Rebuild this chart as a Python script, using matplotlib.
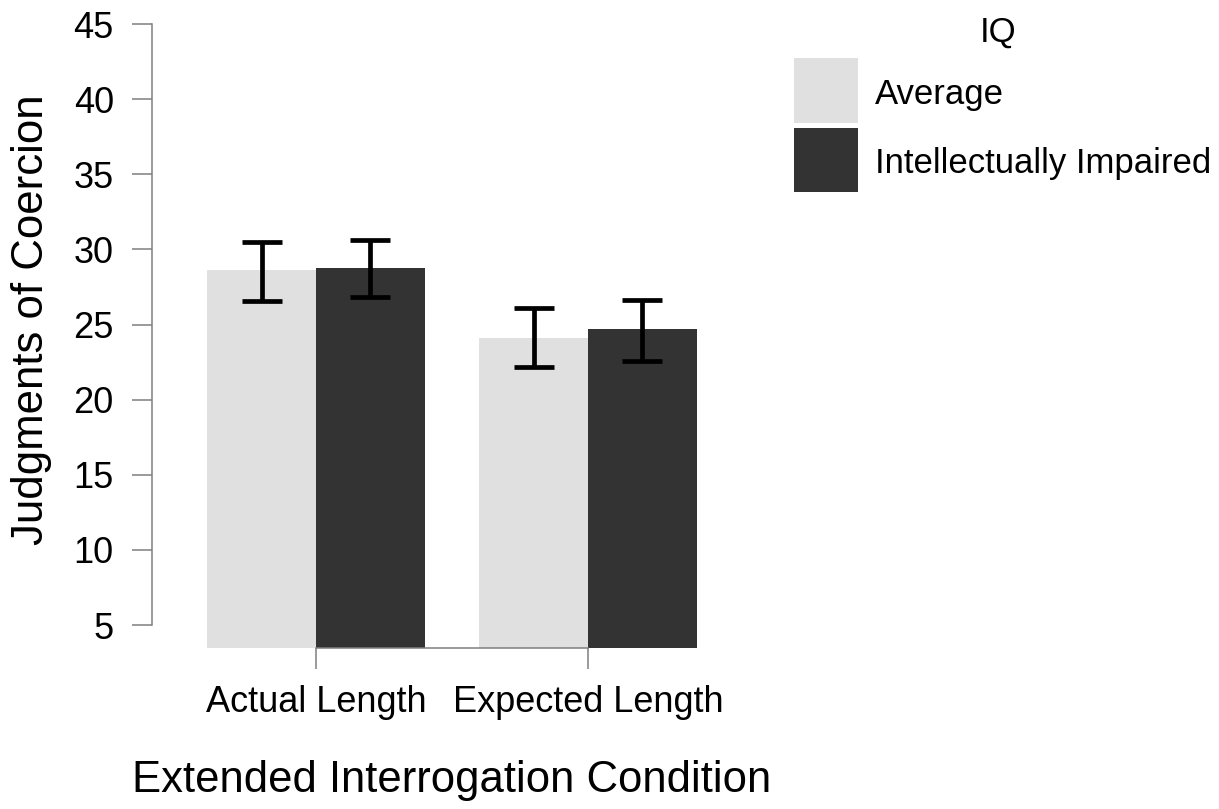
import matplotlib
matplotlib.use("Agg")
import matplotlib.pyplot as plt
import numpy as np
from matplotlib.patches import Rectangle

plt.rcParams['font.family'] = ['Liberation Sans', 'DejaVu Sans']

categories = ["Actual Length", "Expected Length"]
groups = ["Average", "Intellectually Impaired"]
means = {
    "Average": [28.62, 24.13],
    "Intellectually Impaired": [28.76, 24.71],
}
err_low = {
    "Average": [26.56, 22.16],
    "Intellectually Impaired": [26.84, 22.60],
}
err_high = {
    "Average": [30.47, 26.13],
    "Intellectually Impaired": [30.62, 26.60],
}
yticks = [5, 10, 15, 20, 25, 30, 35, 40, 45]
colors = {"Average": "#e0e0e0", "Intellectually Impaired": "#333333"}
legend_title = "IQ"

W, H = 1219, 809
fig = plt.figure(figsize=(W / 100, H / 100), dpi=100)
ax = fig.add_axes([152 / W, 1 - 648 / H, 600 / W, 624 / H])

ymin = 3.47
x = np.arange(len(categories))
width = 0.4
offsets = [-0.2, 0.2]
for g, off in zip(groups, offsets):
    m = np.array(means[g])
    lo = np.array(err_low[g])
    hi = np.array(err_high[g])
    ax.bar(x + off, m - ymin, bottom=ymin, width=width, color=colors[g], edgecolor='none', zorder=2)
    ax.errorbar(x + off, m, yerr=[m - lo, hi - m], fmt='none', ecolor='black',
                elinewidth=3.4, capsize=14.5, capthick=3.4, zorder=3)

ax.set_xlim(-0.603, 1.603)
ax.set_ylim(ymin, 45)
ax.set_yticks(yticks)
ax.set_yticklabels([str(t) for t in yticks])
ax.set_xticks(x)
ax.set_xticklabels(categories)

for s in ['top', 'right']:
    ax.spines[s].set_visible(False)
ax.spines['left'].set_bounds(5, 45)
ax.spines['bottom'].set_bounds(0, 1)
for s in ['left', 'bottom']:
    ax.spines[s].set_color('#7f7f7f')
    ax.spines[s].set_linewidth(1.1)

ax.tick_params(axis='y', length=14.5, width=1.1, color='#7f7f7f', pad=13, labelsize=26, labelcolor='black')
ax.tick_params(axis='x', length=15, width=1.1, color='#7f7f7f', pad=12, labelsize=26, labelcolor='black')

ax.set_xlabel("Extended Interrogation Condition", fontsize=31.4, labelpad=28.5)
fig.text(32 / W, 1 - 320 / H, "Judgments of Coercion", rotation=90, ha='center', va='center', fontsize=31.5)

# Legend (drawn in figure pixel coordinates)
def fy(py):
    return 1 - py / H

fig.text(998 / W, fy(42), legend_title, ha='center', va='baseline', fontsize=25)
rows = [(58, 123), (128, 192)]
for g, (top, bot) in zip(groups, rows):
    fig.add_artist(Rectangle((794 / W, fy(bot)), 64 / W, (bot - top) / H,
                             transform=fig.transFigure, facecolor=colors[g], edgecolor='none'))
    fig.text(875 / W, fy((top + bot) / 2 + 4), g, ha='left', va='center', fontsize=25)

fig.savefig("out.png", dpi=100)
